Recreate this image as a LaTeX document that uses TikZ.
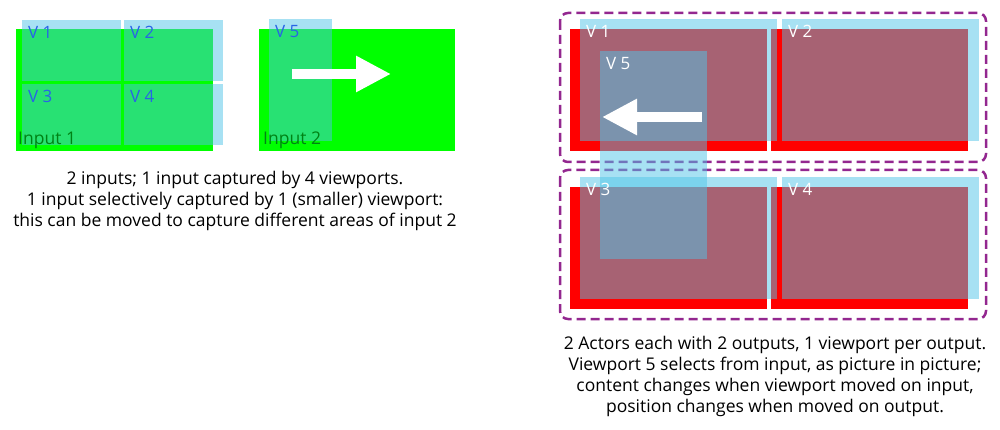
\documentclass[tikz,border=0pt]{standalone}
\usepackage{fontspec}
\setmainfont{Open Sans}
\usetikzlibrary{arrows.meta,positioning}

\definecolor{vpblue}{RGB}{80,196,231}
\definecolor{inputgreen}{RGB}{0,255,0}
\definecolor{actorpurple}{RGB}{147,39,143}
\definecolor{labelblue}{RGB}{40,100,230}
\definecolor{labelgreen}{RGB}{0,130,20}

\begin{document}
\begin{tikzpicture}[x=1pt, y=-1pt,
    area/.style={inner sep=0, outer sep=0, anchor=north west},
    input/.style={area, fill=inputgreen, minimum width=197pt, minimum height=122pt},
    output/.style={area, fill=red, minimum width=197pt, minimum height=122pt},
    viewport/.style={area, fill=vpblue, fill opacity=0.5},
    vlabel/.style={anchor=north west, inner sep=0, font=\fontsize{17}{17}\selectfont},
    ilabel/.style={anchor=base west, inner sep=0, text=labelgreen, font=\fontsize{17.5}{17.5}\selectfont},
    actor/.style={draw=actorpurple, line width=2.5pt, dash pattern=on 9pt off 5pt, rounded corners=8pt},
    caption/.style={align=center, inner sep=0, font=\fontsize{17.5}{21}\selectfont},
    movearrow/.style={white, line width=10pt, -{Triangle[length=35pt, width=34pt]}}
]
\useasboundingbox (0,0) rectangle (1000,430);

% inputs
\node[input] (in1) at (16,29) {};
\node[input, minimum width=196pt] (in2) at (259,29) {};

% viewports on input 1
\node[viewport, minimum width=99pt, minimum height=61pt] (iv1) at (22,20) {};
\node[viewport, minimum width=99pt, minimum height=61pt] (iv2) at (124,20) {};
\node[viewport, minimum width=99pt, minimum height=61pt] (iv3) at (22,84) {};
\node[viewport, minimum width=99pt, minimum height=61pt] (iv4) at (124,84) {};
\node[viewport, minimum width=63pt, minimum height=122pt] (iv5) at (269,19) {};

\foreach \v in {1,...,5}
  \node[vlabel, text=labelblue] at ([shift={(6,6)}]iv\v.north west) {V \v};
\node[ilabel] at ([shift={(2,-6)}]in1.south west) {Input 1};
\node[ilabel] at ([shift={(4,-6)}]in2.south west) {Input 2};

\coordinate (ia) at (292,74);
\coordinate (ib) at (391,74);
\draw[movearrow] (ia) -- (ib);

\node[caption] (incap) at (235,201) {2 inputs; 1 input captured by 4 viewports.\\1 input selectively captured by 1 (smaller) viewport:\\this can be moved to capture different areas of input 2};

% actors
\draw[actor] (560,13) rectangle (986,162);
\draw[actor] (560,170) rectangle (986,319);

\node[output] (out1) at (570,29) {};
\node[output] (out2) at (771,29) {};
\node[output] (out3) at (570,187) {};
\node[output] (out4) at (771,187) {};

\node[viewport, minimum width=197pt, minimum height=122pt] (ov1) at (580,19) {};
\node[viewport, minimum width=197pt, minimum height=122pt] (ov2) at (782,19) {};
\node[viewport, minimum width=197pt, minimum height=122pt] (ov3) at (580,177) {};
\node[viewport, minimum width=197pt, minimum height=122pt] (ov4) at (782,177) {};
\node[viewport, minimum width=107pt, minimum height=208pt] (ov5) at (600,51) {};

\foreach \v in {1,...,5}
  \node[vlabel, text=white] at ([shift={(6,6)}]ov\v.north west) {V \v};

\coordinate (oa) at (702,117);
\coordinate (ob) at (602,117);
\draw[movearrow] (oa) -- (ob);

\node[caption] (outcap) at (775,376) {2 Actors each with 2 outputs, 1 viewport per output.\\Viewport 5 selects from input, as picture in picture;\\content changes when viewport moved on input,\\position changes when moved on output.};
\end{tikzpicture}
\end{document}
